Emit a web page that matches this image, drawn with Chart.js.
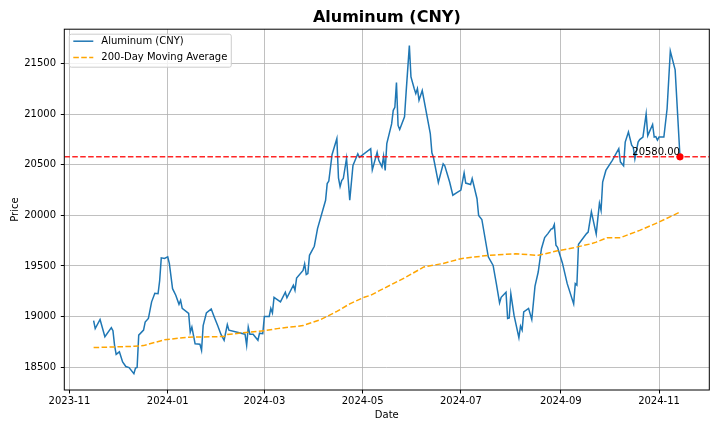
<!DOCTYPE html>
<html lang="en">
<head>
    <meta charset="UTF-8">
    <script src="https://cdn.jsdelivr.net/npm/chart.js"></script>
    <title>Aluminum (CNY)</title>
    <style>
        html, body { margin: 0; padding: 0; background: #fff; }
        #chart { display: block; }
    </style>
</head>
<body>
    <canvas id="chart" width="720" height="432"></canvas>

    <script>
        // daily closes
        const priceDates = [
            '2023-11-16', '2023-11-17', '2023-11-20', '2023-11-23', '2023-11-27', '2023-11-28', '2023-11-29', '2023-11-30',
            '2023-12-02', '2023-12-04', '2023-12-06', '2023-12-08', '2023-12-11', '2023-12-12', '2023-12-13', '2023-12-14',
            '2023-12-17', '2023-12-18', '2023-12-20', '2023-12-22', '2023-12-24', '2023-12-26', '2023-12-27', '2023-12-28',
            '2023-12-30', '2024-01-01', '2024-01-02', '2024-01-04', '2024-01-06', '2024-01-08', '2024-01-09', '2024-01-10',
            '2024-01-14', '2024-01-15', '2024-01-16', '2024-01-18', '2024-01-21', '2024-01-22', '2024-01-23', '2024-01-25',
            '2024-01-28', '2024-01-30', '2024-02-01', '2024-02-03', '2024-02-05', '2024-02-07', '2024-02-08', '2024-02-18',
            '2024-02-19', '2024-02-20', '2024-02-21', '2024-02-23', '2024-02-26', '2024-02-27', '2024-02-29', '2024-03-01',
            '2024-03-04', '2024-03-05', '2024-03-06', '2024-03-07', '2024-03-11', '2024-03-14', '2024-03-15', '2024-03-19',
            '2024-03-20', '2024-03-21', '2024-03-25', '2024-03-26', '2024-03-27', '2024-03-28', '2024-03-29', '2024-04-01',
            '2024-04-03', '2024-04-08', '2024-04-09', '2024-04-10', '2024-04-12', '2024-04-15', '2024-04-16', '2024-04-17',
            '2024-04-18', '2024-04-19', '2024-04-21', '2024-04-23', '2024-04-25', '2024-04-28', '2024-04-29', '2024-05-06',
            '2024-05-07', '2024-05-10', '2024-05-11', '2024-05-13', '2024-05-14', '2024-05-15', '2024-05-16', '2024-05-19',
            '2024-05-20', '2024-05-21', '2024-05-22', '2024-05-23', '2024-05-24', '2024-05-27', '2024-05-28', '2024-05-30',
            '2024-05-31', '2024-06-02', '2024-06-03', '2024-06-04', '2024-06-05', '2024-06-07', '2024-06-12', '2024-06-13',
            '2024-06-14', '2024-06-17', '2024-06-20', '2024-06-21', '2024-06-24', '2024-06-26', '2024-06-28', '2024-07-01',
            '2024-07-03', '2024-07-04', '2024-07-07', '2024-07-08', '2024-07-11', '2024-07-12', '2024-07-14', '2024-07-18',
            '2024-07-21', '2024-07-23', '2024-07-25', '2024-07-26', '2024-07-29', '2024-07-30', '2024-07-31', '2024-08-01',
            '2024-08-03', '2024-08-06', '2024-08-07', '2024-08-08', '2024-08-09', '2024-08-12', '2024-08-14', '2024-08-16',
            '2024-08-18', '2024-08-20', '2024-08-22', '2024-08-24', '2024-08-26', '2024-08-27', '2024-08-28', '2024-08-29',
            '2024-08-30', '2024-09-02', '2024-09-05', '2024-09-09', '2024-09-10', '2024-09-11', '2024-09-12', '2024-09-17',
            '2024-09-18', '2024-09-20', '2024-09-23', '2024-09-24', '2024-09-25', '2024-09-26', '2024-09-27', '2024-09-29',
            '2024-10-03', '2024-10-07', '2024-10-08', '2024-10-10', '2024-10-11', '2024-10-13', '2024-10-15', '2024-10-16',
            '2024-10-17', '2024-10-19', '2024-10-20', '2024-10-22', '2024-10-24', '2024-10-25', '2024-10-28', '2024-10-29',
            '2024-10-30', '2024-10-31', '2024-11-01', '2024-11-04', '2024-11-06', '2024-11-08', '2024-11-11', '2024-11-14'
        ];
        const priceValues = [
            18960, 18880, 18970, 18800, 18890, 18860, 18715, 18625,
            18650, 18550, 18505, 18495, 18435, 18490, 18495, 18815,
            18865, 18945, 18980, 19145, 19230, 19225, 19355, 19580,
            19575, 19590, 19525, 19275, 19210, 19120, 19160, 19080,
            19030, 18845, 18895, 18730, 18725, 18665, 18910, 19035,
            19075, 18990, 18910, 18825, 18765, 18920, 18865, 18825,
            18715, 18895, 18825, 18825, 18765, 18835, 18830, 19000,
            19000, 19080, 19035, 19190, 19145, 19240, 19185, 19310,
            19260, 19380, 19455, 19520, 19415, 19425, 19605, 19695,
            19870, 20150, 20315, 20340, 20600, 20760, 20370, 20285,
            20345, 20365, 20565, 20150, 20495, 20610, 20575, 20660,
            20450, 20625, 20545, 20480, 20585, 20445, 20710, 20905,
            21040, 21070, 21315, 20890, 20850, 20975, 21220, 21680,
            21370, 21255, 21205, 21255, 21140, 21235, 20810, 20620,
            20570, 20325, 20510, 20490, 20330, 20200, 20220, 20250,
            20420, 20320, 20305, 20365, 20165, 20000, 19960, 19590,
            19505, 19325, 19135, 19190, 19240, 18980, 18985, 19225,
            19010, 18790, 18905, 18865, 19045, 19080, 18970, 19300,
            19440, 19670, 19780, 19820, 19865, 19870, 19910, 19705,
            19685, 19530, 19325, 19125, 19325, 19310, 19715, 19820,
            19835, 20035, 19815, 19970, 20120, 20050, 20330, 20445,
            20545, 20660, 20530, 20490, 20725, 20825, 20695, 20675,
            20560, 20725, 20750, 20775, 21005, 20790, 20900, 20775,
            20780, 20745, 20775, 20775, 21055, 21625, 21440, 20580
        ];

        // 200-day moving average, read at its turning points
        const maDates = [
            '2023-11-16', '2023-12-11', '2023-12-17', '2023-12-30', '2024-01-14', '2024-02-05', '2024-02-07', '2024-02-21',
            '2024-03-01', '2024-03-09', '2024-03-25', '2024-04-05', '2024-04-15', '2024-04-23', '2024-05-02', '2024-05-06',
            '2024-05-12', '2024-05-20', '2024-05-28', '2024-06-08', '2024-06-20', '2024-07-01', '2024-07-18', '2024-08-04',
            '2024-08-18', '2024-08-30', '2024-09-09', '2024-09-20', '2024-09-23', '2024-09-30', '2024-10-08', '2024-10-20',
            '2024-11-01', '2024-11-14'
        ];
        const maValues = [
            18692, 18705, 18712, 18770, 18795, 18802, 18822, 18845,
            18860, 18880, 18910, 18970, 19050, 19125, 19190, 19210,
            19260, 19325, 19390, 19490, 19525, 19572, 19605, 19620,
            19605, 19650, 19680, 19720, 19736, 19780, 19780, 19852,
            19934, 20033
        ];

        const xTickMonths = ['2023-11', '2024-01', '2024-03', '2024-05', '2024-07', '2024-09', '2024-11'];
        const yTickValues = [18500, 19000, 19500, 20000, 20500, 21000, 21500];

        const DAY = 86400000;
        function toDay(s) {
            const [y, m, d] = s.split('-').map(Number);
            return Date.UTC(y, m - 1, d || 1) / DAY;
        }

        const pricePoints = priceDates.map((d, i) => ({ x: toDay(d), y: priceValues[i] }));
        const maPoints = maDates.map((d, i) => ({ x: toDay(d), y: maValues[i] }));
        const lastPoint = pricePoints[pricePoints.length - 1];

        // matplotlib-like 5% margins
        const xs = pricePoints.map(p => p.x);
        const xSpan = Math.max(...xs) - Math.min(...xs);
        const xMin = Math.min(...xs) - xSpan * 0.05;
        const xMax = Math.max(...xs) + xSpan * 0.05;
        const ys = priceValues.concat(maValues);
        const ySpan = Math.max(...ys) - Math.min(...ys);
        const yMin = Math.min(...ys) - ySpan * 0.05;
        const yMax = Math.max(...ys) + ySpan * 0.05;

        const DASH = [5.55, 2.4];

        Chart.defaults.font.family = 'DejaVu Sans';
        Chart.defaults.font.size = 10;
        Chart.defaults.color = '#000';

        // spines on all four sides, then the legend box in the upper left
        const framePlugin = {
            id: 'frame',
            afterDraw(chart) {
                const { ctx, chartArea: a } = chart;
                ctx.save();
                ctx.strokeStyle = '#000';
                ctx.lineWidth = 1;
                ctx.strokeRect(a.left, a.top, a.right - a.left, a.bottom - a.top);

                const items = chart.data.datasets.filter(ds => ds.inLegend);
                ctx.font = '10px "DejaVu Sans"';
                const textW = Math.max(...items.map(ds => ctx.measureText(ds.label).width));
                const bx = a.left + 5, by = a.top + 5;
                const bw = 4 + 20 + 8 + textW + 4, bh = 33;
                ctx.beginPath();
                ctx.roundRect(bx, by, bw, bh, 2);
                ctx.fillStyle = 'rgba(255,255,255,0.8)';
                ctx.fill();
                ctx.strokeStyle = '#cccccc';
                ctx.stroke();

                items.forEach((ds, i) => {
                    const cy = by + 7 + i * 16.3;
                    ctx.beginPath();
                    ctx.setLineDash(ds.borderDash || []);
                    ctx.strokeStyle = ds.borderColor;
                    ctx.lineWidth = ds.borderWidth;
                    ctx.moveTo(bx + 4, cy);
                    ctx.lineTo(bx + 24, cy);
                    ctx.stroke();
                    ctx.setLineDash([]);
                    ctx.fillStyle = '#000';
                    ctx.textAlign = 'left';
                    ctx.textBaseline = 'middle';
                    ctx.fillText(ds.label, bx + 32, cy);
                });
                ctx.restore();
            }
        };

        // value label beside the last close
        const lastLabelPlugin = {
            id: 'lastLabel',
            afterDatasetsDraw(chart) {
                const { ctx, scales } = chart;
                const px = scales.x.getPixelForValue(lastPoint.x);
                const py = scales.y.getPixelForValue(lastPoint.y);
                ctx.save();
                ctx.font = '10px "DejaVu Sans"';
                ctx.fillStyle = '#000';
                ctx.textAlign = 'right';
                ctx.textBaseline = 'alphabetic';
                ctx.fillText(lastPoint.y.toFixed(2), px, py - 2);
                ctx.restore();
            }
        };

        new Chart(document.getElementById('chart'), {
            type: 'line',
            data: {
                datasets: [
                    {
                        label: 'Aluminum (CNY)',
                        data: pricePoints,
                        borderColor: '#1f77b4',
                        borderWidth: 1.5,
                        pointRadius: 0,
                        order: 3,
                        inLegend: true
                    },
                    {
                        label: '200-Day Moving Average',
                        data: maPoints,
                        borderColor: '#ffa500',
                        borderWidth: 1.5,
                        borderDash: DASH,
                        pointRadius: 0,
                        order: 2,
                        inLegend: true
                    },
                    {
                        label: 'Last',
                        data: [{ x: xMin, y: lastPoint.y }, { x: xMax, y: lastPoint.y }],
                        borderColor: 'rgba(255,0,0,0.85)',
                        borderWidth: 1.5,
                        borderDash: DASH,
                        pointRadius: 0,
                        order: 1
                    },
                    {
                        label: 'Last point',
                        data: [lastPoint],
                        showLine: false,
                        pointRadius: 3.6,
                        pointBackgroundColor: '#ff0000',
                        pointBorderColor: '#ff0000',
                        pointBorderWidth: 0,
                        order: 0
                    }
                ]
            },
            options: {
                responsive: false,
                animation: false,
                layout: { padding: { left: 0, right: 10.7, top: 0, bottom: 0 } },
                plugins: {
                    legend: { display: false },
                    tooltip: { enabled: false },
                    title: {
                        display: true,
                        fullSize: false,
                        text: 'Aluminum (CNY)',
                        color: '#000',
                        font: { size: 16, weight: 'bold' },
                        padding: { top: 8, bottom: 2 }
                    }
                },
                scales: {
                    x: {
                        type: 'linear',
                        min: xMin,
                        max: xMax,
                        afterBuildTicks(scale) {
                            scale.ticks = xTickMonths.map(m => ({ value: toDay(m + '-01') }));
                        },
                        afterFit(scale) { scale.height = 42; },
                        ticks: {
                            autoSkip: false,
                            maxRotation: 0,
                            padding: 1.5,
                            callback: v => new Date(v * DAY).toISOString().slice(0, 7)
                        },
                        grid: { color: '#b0b0b0', lineWidth: 0.8, tickLength: 3.5, tickColor: '#000', tickWidth: 1 },
                        border: { display: false },
                        title: { display: true, text: 'Date', padding: { top: 2, bottom: 11 } }
                    },
                    y: {
                        type: 'linear',
                        min: yMin,
                        max: yMax,
                        afterBuildTicks(scale) {
                            scale.ticks = yTickValues.map(v => ({ value: v }));
                        },
                        afterFit(scale) { scale.width = 64.3; },
                        ticks: { padding: 4.8, callback: v => String(v) },
                        grid: { color: '#b0b0b0', lineWidth: 0.8, tickLength: 3.5, tickColor: '#000', tickWidth: 1 },
                        border: { display: false },
                        title: { display: true, text: 'Price', padding: { top: 9, bottom: 0 } }
                    }
                }
            },
            plugins: [lastLabelPlugin, framePlugin]
        });
    </script>
</body>
</html>
